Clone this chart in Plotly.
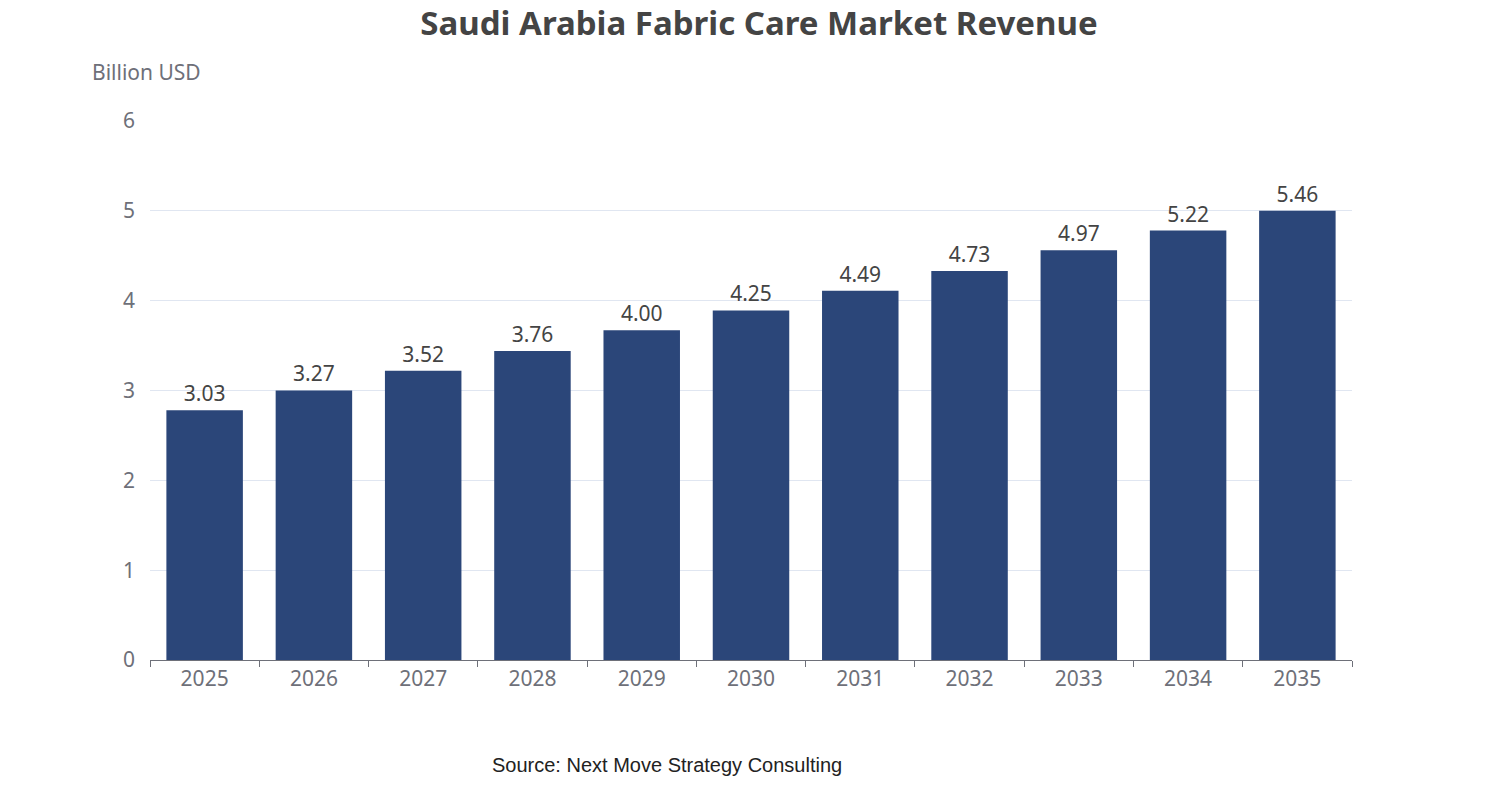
import plotly.graph_objects as go

years = ['2025', '2026', '2027', '2028', '2029', '2030', '2031', '2032', '2033', '2034', '2035']
bar_values = [2.78, 3.0, 3.22, 3.44, 3.67, 3.89, 4.11, 4.33, 4.56, 4.78, 5.0]
label_text = ['3.03', '3.27', '3.52', '3.76', '4.00', '4.25', '4.49', '4.73', '4.97', '5.22', '5.46']

fig = go.Figure(go.Bar(
	x=years,
	y=bar_values,
	text=label_text,
	textposition='outside',
	textfont=dict(size=21, color='#444444'),
	marker_color='#2b4679',
	marker_line_width=0,
	cliponaxis=False,
))

fig.update_layout(
	width=1502, height=800,
	paper_bgcolor='white', plot_bgcolor='white',
	font=dict(family='Noto Sans', color='#6e7079'),
	title=dict(text='<b>Saudi Arabia Fabric Care Market Revenue</b>', x=0.5, xanchor='center',
		y=0.995, yanchor='top', font=dict(size=33, color='#444444')),
	margin=dict(l=142, r=158, t=112, b=148),
	bargap=0.3,
	showlegend=False,
	xaxis=dict(showline=True, linecolor='#6e7079', ticks='outside', ticklen=6, tickcolor='#6e7079',
		tickson='boundaries', tickfont=dict(size=21)),
	yaxis=dict(range=[0, 6.01], dtick=1, gridcolor='#e0e6f1', zeroline=False, tickfont=dict(size=21),
		ticklabelstandoff=14),
	annotations=[
		dict(text='Billion USD', xref='paper', yref='paper', x=-0.05, y=1.06, xanchor='left',
			yanchor='bottom', showarrow=False, font=dict(size=21, color='#6e7079')),
		dict(text='Source: Next Move Strategy Consulting', xref='paper', yref='paper', x=0.43, y=-0.17,
			xanchor='center', yanchor='top', showarrow=False,
			font=dict(family='Liberation Sans', size=20, color='#222222')),
	],
)

fig.write_html('out.html')
